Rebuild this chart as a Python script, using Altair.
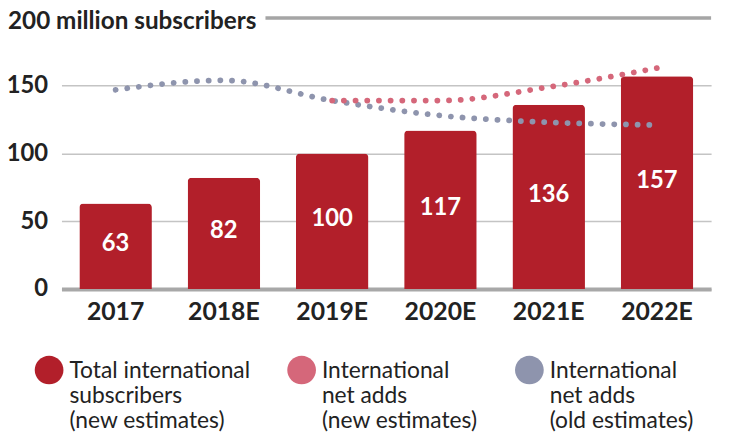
import altair as alt
import pandas as pd

years = ["2017", "2018E", "2019E", "2020E", "2021E", "2022E"]
total_subs = [63, 82, 100, 117, 136, 157]
net_adds_new = [None, None, 139, 139, 149, 163]
net_adds_old = [147, 154, 139, 128, 123, 121]
series_names = [
    "Total international|subscribers|(new estimates)",
    "International|net adds|(new estimates)",
    "International|net adds|(old estimates)",
]
series_colors = ["#b21f2a", "#d5677a", "#8e94ad"]
y_ticks = [0, 50, 100, 150]
y_top = 200
top_label = "200 million subscribers"

FONT = "Lato"
TXT = "#222222"

bars_df = pd.DataFrame({"year": years, "value": total_subs, "series": series_names[0]})
new_df = pd.DataFrame({"year": years, "value": net_adds_new}).dropna()
old_df = pd.DataFrame({"year": years, "value": net_adds_old})
top_df = pd.DataFrame({"v": [y_top], "label": [top_label]})

# circle symbol raised so that its centre sits at the middle of the first label line
legend_circle = "M -1,-0.57 A 1,1 0 1,1 1,-0.57 A 1,1 0 1,1 -1,-0.57 Z"

x_enc = alt.X(
    "year:N",
    sort=years,
    scale=alt.Scale(paddingInner=0.33, paddingOuter=0.165),
    axis=alt.Axis(
        title=None, labelAngle=0, labelFont=FONT, labelFontWeight="bold",
        labelFontSize=25, labelColor=TXT, labelPadding=10.5, ticks=False,
        domainColor="#a8a8a8", domainWidth=4, grid=False,
    ),
)
y_scale = alt.Scale(domain=[0, y_top], nice=False)

bars = alt.Chart(bars_df).mark_bar(cornerRadiusTopLeft=4, cornerRadiusTopRight=4).encode(
    x=x_enc,
    y=alt.Y(
        "value:Q", scale=y_scale,
        axis=alt.Axis(
            values=y_ticks, title=None, labelFont=FONT, labelFontWeight="bold",
            labelFontSize=24, labelColor=TXT, labelPadding=14, ticks=False,
            domain=False, gridColor="#c4c4c4", gridWidth=1.5,
        ),
    ),
    color=alt.Color(
        "series:N",
        scale=alt.Scale(domain=series_names, range=series_colors),
        legend=alt.Legend(
            title=None, orient="none", legendX=-27, legendY=349, direction="horizontal",
            columns=3, columnPadding=37, padding=0,
            symbolType=legend_circle, symbolSize=841, symbolStrokeWidth=0, symbolOpacity=1,
            labelFont=FONT, labelFontSize=23, labelColor=TXT, labelLimit=400,
            labelOffset=6, labelBaseline="alphabetic",
            labelExpr="split(datum.label, '|')",
        ),
    ),
)

bar_labels = alt.Chart(bars_df).transform_calculate(half="datum.value / 2").mark_text(
    font=FONT, fontWeight="bold", fontSize=24, color="white", baseline="middle", dy=-2
).encode(x=alt.X("year:N", sort=years), y=alt.Y("half:Q", scale=y_scale), text="value:Q")

dot_style = dict(strokeWidth=5.8, strokeCap="round", strokeDash=[0.1, 11.7], interpolate="monotone")
old_line = alt.Chart(old_df).mark_line(color=series_colors[2], **dot_style).encode(
    x=alt.X("year:N", sort=years), y=alt.Y("value:Q", scale=y_scale)
)
new_line = alt.Chart(new_df).mark_line(color=series_colors[1], **dot_style).encode(
    x=alt.X("year:N", sort=years), y=alt.Y("value:Q", scale=y_scale)
)

top_rule = alt.Chart(top_df).mark_rule(color="#a5a5a5", strokeWidth=3.5).encode(
    y=alt.Y("v:Q", scale=y_scale), x=alt.value(206), x2=alt.value(656)
)
top_text = alt.Chart(top_df).mark_text(
    font=FONT, fontWeight="bold", fontSize=24.5, color=TXT, align="left", baseline="alphabetic", dy=10.8
).encode(y=alt.Y("v:Q", scale=y_scale), x=alt.value(-54), text="label:N")

chart = alt.layer(bars, bar_labels, old_line, new_line, top_rule, top_text).properties(
    width=656, height=273.6,
    padding={"left": 54, "top": 8, "right": 10, "bottom": 142.4},
    autosize=alt.AutoSizeParams(type="none"),
).configure_view(stroke=None)

chart.save("out.html", embed_options={"renderer": "svg", "actions": False})
